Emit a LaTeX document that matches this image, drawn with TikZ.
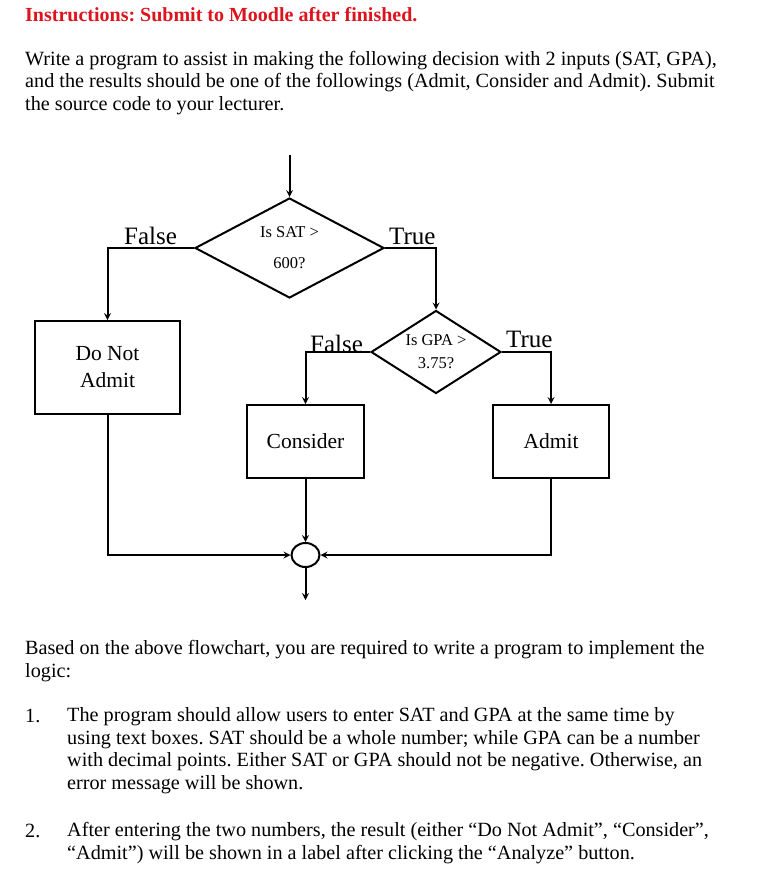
\documentclass[tikz,border=0pt]{standalone}
\usepackage{fontspec}
\setmainfont{Liberation Serif}
\frenchspacing
\usetikzlibrary{shapes.geometric, arrows}
\definecolor{titlered}{RGB}{220,20,30}
\tikzstyle{decision} = [diamond, draw=black, line width=2pt, inner sep=0pt, align=center]
\tikzstyle{process} = [rectangle, draw=black, line width=2pt, align=center, font=\fontsize{21.5}{27}\selectfont]
\tikzstyle{connector} = [ellipse, draw=black, line width=2pt, minimum width=28pt, minimum height=24pt, inner sep=0pt]
\tikzstyle{arrow} = [line width=2pt,->,>=stealth]
\tikzstyle{branch} = [font=\fontsize{25}{25}\selectfont, inner sep=0pt, anchor=base west]
\tikzstyle{body} = [font=\fontsize{20.2}{22.5}\selectfont, inner sep=0pt, anchor=base west, align=left]

\begin{document}
\begin{tikzpicture}[x=1pt, y=-1pt]
\useasboundingbox (0,0) rectangle (769,884);

% text above the chart (multi-line nodes sit on their last baseline)
\node (title) [body, font=\fontsize{20}{22}\selectfont\bfseries, text=titlered] at (25,21) {Instructions: Submit to Moodle after finished.};
\node (task) [body] at (25,110) {Write a program to assist in making the following decision with 2 inputs (SAT, GPA),\\and the results should be one of the followings (Admit, Consider and Admit). Submit\\the source code to your lecturer.};

% flowchart
\coordinate (start) at (289.5,155);
\node (sat) [decision, aspect=1.9, minimum width=189pt, minimum height=100pt, font=\fontsize{16.5}{31}\selectfont] at (289.5,248) {Is SAT >\\600?};
\node (gpa) [decision, aspect=1.6, minimum width=130pt, minimum height=83pt, font=\fontsize{16.5}{23}\selectfont] at (436,352) {Is GPA >\\3.75?};
\node (noadmit) [process, minimum width=145pt, minimum height=93pt] at (107.5,367.5) {Do Not\\Admit};
\node (consider) [process, minimum width=117pt, minimum height=73pt] at (305.5,441.5) {Consider};
\node (admit) [process, minimum width=116pt, minimum height=73pt] at (551,441.5) {Admit};
\node (join) [connector] at (305.5,555) {};
\coordinate (end) at (305.5,600);

\draw [arrow] (start) -- (sat);
\draw [arrow] (sat.west) -| (noadmit.north);
\draw [arrow] (sat.east) -| (gpa.north);
\draw [arrow] (gpa.west) -| (consider.north);
\draw [arrow] (gpa.east) -| (admit.north);
\draw [arrow] (consider) -- (join);
\draw [arrow] (noadmit.south) |- (join.west);
\draw [arrow] (admit.south) |- (join.east);
\draw [arrow] (join) -- (end);

\node (satno) [branch] at (124,244) {False};
\node (satyes) [branch] at (389,244) {True};
\node (gpano) [branch] at (310,352) {False};
\node (gpayes) [branch] at (506,347) {True};

% text below the chart
\node (based) [body] at (25,677) {Based on the above flowchart, you are required to write a program to implement the\\logic:};
\node (num1) [body] at (25,722) {1.};
\node (item1) [body] at (67,789) {The program should allow users to enter SAT and GPA at the same time by\\using text boxes. SAT should be a whole number; while GPA can be a number\\with decimal points. Either SAT or GPA should not be negative. Otherwise, an\\error message will be shown.};
\node (num2) [body] at (25,837) {2.};
\node (item2) [body] at (67,859) {After entering the two numbers, the result (either “Do Not Admit”, “Consider”,\\“Admit”) will be shown in a label after clicking the “Analyze” button.};
\end{tikzpicture}
\end{document}
